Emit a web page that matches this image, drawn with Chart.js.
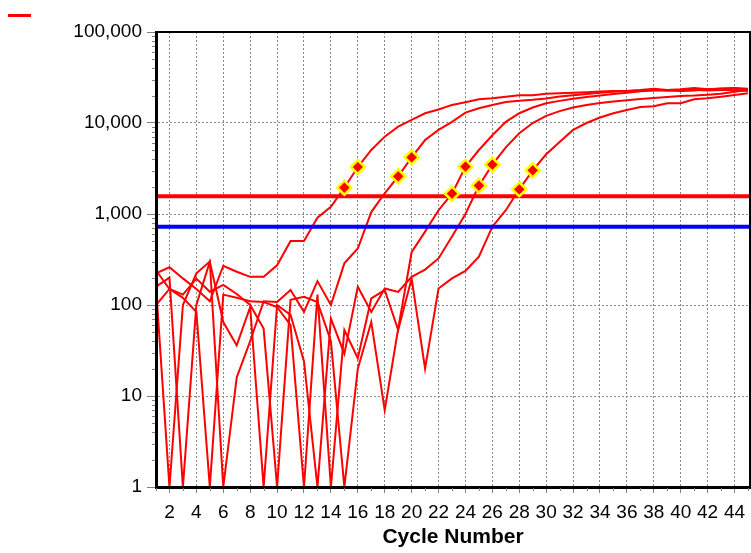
<!DOCTYPE html>
<html>
<head>
<meta charset="utf-8">
<script src="https://cdn.jsdelivr.net/npm/chart.js@4.4.0/dist/chart.umd.min.js"></script>
<style>
  html, body { margin: 0; padding: 0; background: #fff; }
</style>
</head>
<body>
<canvas id="myChart" width="751" height="553"></canvas>
<script>
// cycles on the x axis
const cycles = [1, 2, 3, 4, 5, 6, 7, 8, 9, 10, 11, 12, 13, 14, 15, 16, 17, 18, 19, 20,
  21, 22, 23, 24, 25, 26, 27, 28, 29, 30, 31, 32, 33, 34, 35, 36, 37, 38, 39, 40,
  41, 42, 43, 44, 45];

// fluorescence per cycle, one array per well
const wellA = [223, 260, 196, 150, 110, 270, 232, 204, 204, 273, 505, 505, 910, 1200, 1945,
  3284, 5050, 7080, 9100, 10800, 12800, 14100, 15800, 16900, 18200, 18700, 19400, 20200,
  20200, 21000, 21200, 21500, 21800, 22200, 22500, 22500, 22800, 23000, 22600, 22800,
  23200, 22800, 23000, 23200, 22500];
const wellB = [159, 1, 100, 223, 300, 1, 16, 40, 110, 108, 146, 84, 183, 100, 287,
  418, 1050, 1690, 2596, 4198, 6500, 8400, 10300, 13000, 14500, 15800, 17000, 17600,
  18000, 18600, 19500, 20200, 20800, 21500, 22000, 22500, 23000, 23800, 23000, 23500,
  24200, 23500, 24000, 24300, 23800];
const wellC = [240, 150, 130, 195, 140, 166, 132, 100, 55, 1, 114, 123, 108, 40, 1,
  20, 65, 7, 55, 380, 640, 1100, 1671, 3311, 5050, 7340, 10300, 12800,
  14800, 16500, 17500, 18500, 19300, 20000, 20800, 21500, 22300, 22800, 23000, 22500,
  22800, 23500, 23800, 24000, 23500];
const wellD = [159, 200, 1, 100, 300, 65, 36, 95, 1, 100, 78, 24, 1, 71, 29,
  159, 84, 152, 139, 204, 245, 325, 565, 1000, 2047, 3482, 5400, 7700,
  10000, 12000, 13500, 14800, 15800, 16600, 17200, 17800, 18300, 18800, 19300, 19800,
  20000, 20500, 21000, 22000, 23000];
const wellE = [100, 150, 120, 84, 1, 130, 120, 110, 108, 95, 60, 1, 130, 1, 53,
  26, 118, 146, 53, 196, 20, 152, 196, 237, 340, 725, 1100, 1868,
  3020, 4530, 6200, 8400, 10000, 11500, 12800, 13900, 15000, 15300, 16500, 16500,
  18200, 18700, 19400, 20300, 21200];

// the two cycles flagged around each well's threshold crossing
const markerCycles = [[15, 16], [19, 20], [23, 24], [25, 26], [28, 29]];

const thresholdRed = 1566;
const thresholdBlue = 725;

const xTickLabels = [2, 4, 6, 8, 10, 12, 14, 16, 18, 20, 22, 24, 26, 28, 30, 32, 34, 36, 38, 40, 42, 44];
const yTickLabels = [1, 10, 100, 1000, 10000, 100000];

const xMin = 1, xMax = 45.15;

const wells = [wellA, wellB, wellC, wellD, wellE];

const toPoints = (vals) => cycles.map((c, i) => ({ x: c, y: vals[i] }));

const curveSets = wells.map((w) => ({
  type: 'line',
  data: toPoints(w),
  borderColor: '#ff0000',
  borderWidth: 2,
  pointRadius: 0,
  tension: 0,
  order: 3
}));

const markerPoints = [];
markerCycles.forEach((pair, i) => {
  pair.forEach((c) => markerPoints.push({ x: c, y: wells[i][cycles.indexOf(c)] }));
});

const minorTicks = {
  id: 'minorTicks',
  afterDraw(chart) {
    const { ctx, chartArea, scales } = chart;
    ctx.save();
    ctx.strokeStyle = '#808080';
    ctx.lineWidth = 1;
    ctx.beginPath();
    cycles.forEach((c) => {
      if (xTickLabels.includes(c)) return;
      const px = Math.round(scales.x.getPixelForValue(c)) + 0.5;
      ctx.moveTo(px, chartArea.bottom + 1);
      ctx.lineTo(px, chartArea.bottom + 4);
    });
    yTickLabels.slice(0, -1).forEach((d) => {
      for (let m = 2; m < 10; m++) {
        const py = Math.round(scales.y.getPixelForValue(d * m)) + 0.5;
        ctx.moveTo(chartArea.left - 4, py);
        ctx.lineTo(chartArea.left - 1, py);
      }
    });
    ctx.stroke();
    // thin frame on top and right
    ctx.strokeStyle = '#000';
    ctx.lineWidth = 2;
    ctx.beginPath();
    ctx.moveTo(chartArea.left, chartArea.top);
    ctx.lineTo(chartArea.right, chartArea.top);
    ctx.lineTo(chartArea.right, chartArea.bottom);
    ctx.stroke();
    ctx.restore();
  }
};

const ctx = document.getElementById('myChart').getContext('2d');
new Chart(ctx, {
  data: {
    datasets: [
      {
        type: 'scatter',
        data: markerPoints,
        pointStyle: 'rectRot',
        pointRadius: 7,
        pointBorderWidth: 2.5,
        pointBorderColor: '#ffff00',
        pointBackgroundColor: '#ff0000',
        order: 1
      },
      {
        type: 'line',
        data: [{ x: xMin, y: thresholdRed }, { x: xMax, y: thresholdRed }],
        borderColor: '#ff0000',
        borderWidth: 4,
        pointRadius: 0,
        order: 2
      },
      {
        type: 'line',
        data: [{ x: xMin, y: thresholdBlue }, { x: xMax, y: thresholdBlue }],
        borderColor: '#0000ff',
        borderWidth: 4,
        pointRadius: 0,
        order: 2
      },
      ...curveSets
    ]
  },
  options: {
    responsive: false,
    animation: false,
    layout: { autoPadding: false, padding: { left: 0, right: 1, top: 0, bottom: 0 } },
    plugins: {
      tooltip: { enabled: false },
      legend: {
        display: true,
        position: 'top',
        align: 'start',
        labels: {
          boxWidth: 23,
          boxHeight: 3,
          padding: 8,
          font: { size: 13 },
          generateLabels: () => [{
            text: '', fillStyle: '#ff0000', strokeStyle: '#ff0000', lineWidth: 0, hidden: false, datasetIndex: 3
          }]
        }
      }
    },
    scales: {
      x: {
        type: 'linear',
        min: xMin,
        max: xMax,
        afterBuildTicks: (axis) => { axis.ticks = xTickLabels.map((v) => ({ value: v })); },
        afterFit: (axis) => { axis.height = 66; axis.paddingLeft = 0; axis.paddingRight = 0; },
        ticks: {
          autoSkip: false,
          maxRotation: 0,
          padding: 8,
          color: '#000',
          font: { family: 'Liberation Sans, Arial, sans-serif', size: 19 }
        },
        grid: {
          color: '#888',
          lineWidth: 1,
          tickLength: 6,
          tickColor: '#808080'
        },
        border: { display: true, color: '#000', width: 3, dash: [2, 2], z: 1 },
        title: {
          display: true,
          text: 'Cycle Number',
          color: '#000',
          padding: { top: 0, bottom: 3 },
          font: { family: 'Liberation Sans, Arial, sans-serif', size: 21, weight: 'bold' }
        }
      },
      y: {
        type: 'logarithmic',
        min: 1,
        max: 100000,
        afterBuildTicks: (axis) => { axis.ticks = yTickLabels.map((v) => ({ value: v })); },
        afterFit: (axis) => { axis.width = 156; axis.paddingTop = 32; },
        ticks: {
          padding: 5,
          color: '#000',
          font: { family: 'Liberation Sans, Arial, sans-serif', size: 19 },
          callback: (v) => Number(v).toLocaleString('en-US')
        },
        grid: {
          color: '#888',
          lineWidth: 1,
          tickLength: 9,
          tickColor: '#808080'
        },
        border: { display: true, color: '#000', width: 3, dash: [2, 2], z: 1 }
      }
    }
  },
  plugins: [minorTicks]
});
</script>
</body>
</html>
